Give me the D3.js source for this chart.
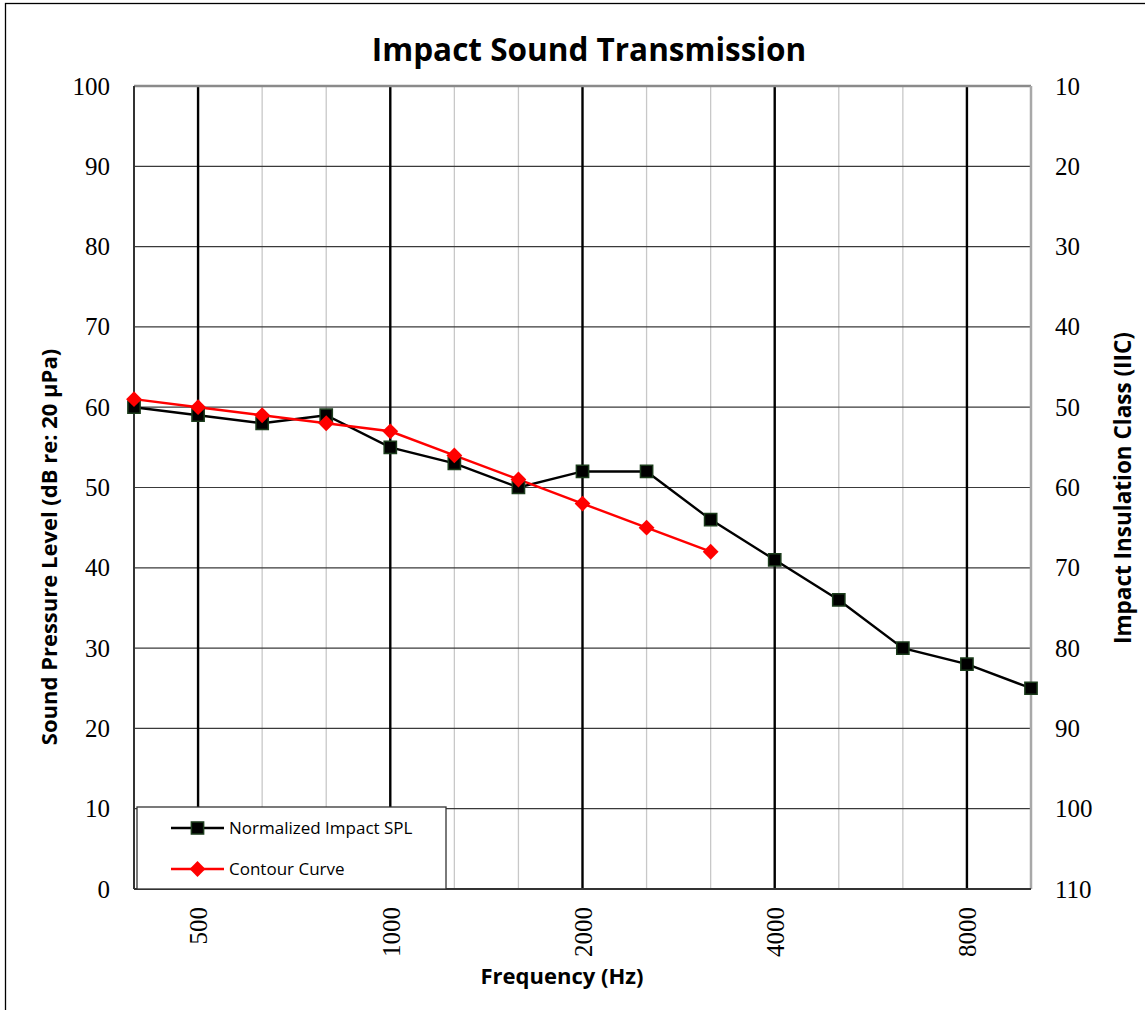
<!DOCTYPE html>
<html>
<head>
<meta charset="utf-8">
<script src="https://cdn.jsdelivr.net/npm/d3@7"></script>
<style>
  body { margin: 0; background: #fff; }
  svg text { fill: #000; }
</style>
</head>
<body>
<svg id="chart" width="1145" height="1010"></svg>
<script>
// third-octave bands and values
const freqs = [400, 500, 630, 800, 1000, 1250, 1600, 2000, 2500, 3150, 4000, 5000, 6300, 8000, 10000];
const splValues = [60, 59, 58, 59, 55, 53, 50, 52, 52, 46, 41, 36, 30, 28, 25];
const contourFreqs = [400, 500, 630, 800, 1000, 1250, 1600, 2000, 2500, 3150];
const contourValues = [61, 60, 59, 58, 57, 54, 51, 48, 45, 42];
const octaveTicks = [500, 1000, 2000, 4000, 8000];
const leftTicks = [0, 10, 20, 30, 40, 50, 60, 70, 80, 90, 100];
const rightTicks = [10, 20, 30, 40, 50, 60, 70, 80, 90, 100, 110];

const svg = d3.select('#chart');
const pLeft = 134, pRight = 1031, pTop = 86, pBottom = 889;

// bands are evenly spaced on the axis
const x = d3.scalePoint().domain(freqs).range([pLeft, pRight]);
const y = d3.scaleLinear().domain([0, 100]).range([pBottom, pTop]);
const yRight = d3.scaleLinear().domain([110, 10]).range([pBottom, pTop]);

// outer frame
svg.append('rect').attr('x', 5.5).attr('y', 3.5).attr('width', 1150).attr('height', 1020)
  .attr('fill', 'none').attr('stroke', '#000').attr('stroke-width', 1.3);

// title
svg.append('text').attr('x', 589).attr('y', 61).attr('text-anchor', 'middle')
  .style('font-family', 'Open Sans').style('font-weight', 'bold').style('font-size', '31.5px')
  .text('Impact Sound Transmission');

// minor vertical grid (every band)
svg.append('g').selectAll('line')
  .data(freqs.filter(f => !octaveTicks.includes(f) && f !== 400 && f !== 10000))
  .enter().append('line')
  .attr('x1', d => x(d)).attr('x2', d => x(d)).attr('y1', pTop).attr('y2', pBottom)
  .attr('stroke', '#c8c8c8').attr('stroke-width', 1.3);

// horizontal grid
svg.append('g').selectAll('line')
  .data(leftTicks.slice(1, -1))
  .enter().append('line')
  .attr('x1', pLeft).attr('x2', pRight).attr('y1', d => y(d)).attr('y2', d => y(d))
  .attr('stroke', '#3a3a3a').attr('stroke-width', 1.2);

// octave lines
svg.append('g').selectAll('line')
  .data(octaveTicks)
  .enter().append('line')
  .attr('x1', d => x(d)).attr('x2', d => x(d)).attr('y1', pTop).attr('y2', pBottom)
  .attr('stroke', '#000').attr('stroke-width', 2.4);

// plot border
svg.append('line').attr('x1', pLeft).attr('x2', pRight).attr('y1', pTop).attr('y2', pTop)
  .attr('stroke', '#8a8a8a').attr('stroke-width', 2.5);
svg.append('line').attr('x1', pRight).attr('x2', pRight).attr('y1', pTop).attr('y2', pBottom)
  .attr('stroke', '#a8a8a8').attr('stroke-width', 2.5);
svg.append('line').attr('x1', pLeft).attr('x2', pLeft).attr('y1', pTop).attr('y2', pBottom)
  .attr('stroke', '#333').attr('stroke-width', 2);
svg.append('line').attr('x1', pLeft).attr('x2', pRight).attr('y1', pBottom).attr('y2', pBottom)
  .attr('stroke', '#333').attr('stroke-width', 2);

// axes labels (ticks)
const serif = 'Liberation Serif, Times New Roman, serif';
const yAxisL = d3.axisLeft(y).tickValues(leftTicks).tickSize(0).tickPadding(24);
svg.append('g').attr('transform', `translate(${pLeft},0)`).call(yAxisL)
  .call(g => g.select('.domain').remove())
  .selectAll('text').style('font-family', serif).style('font-size', '25px').attr('fill', '#000');

const yAxisR = d3.axisRight(yRight).tickValues(rightTicks).tickSize(0).tickPadding(24);
svg.append('g').attr('transform', `translate(${pRight},0)`).call(yAxisR)
  .call(g => g.select('.domain').remove())
  .selectAll('text').style('font-family', serif).style('font-size', '25px').attr('fill', '#000');

const xAxis = d3.axisBottom(x).tickValues(octaveTicks).tickFormat(d3.format('d')).tickSize(0);
svg.append('g').attr('transform', `translate(0,${pBottom})`).call(xAxis)
  .call(g => g.select('.domain').remove())
  .selectAll('text')
  .style('font-family', serif).style('font-size', '25px').attr('fill', '#000')
  .attr('transform', 'rotate(-90)')
  .attr('x', -18).attr('y', 0).attr('dy', '0.35em')
  .attr('text-anchor', 'end');

// axis titles
const sans = 'Open Sans, sans-serif';
svg.append('text').attr('x', 562).attr('y', 984).attr('text-anchor', 'middle')
  .style('font-family', sans).style('font-weight', 'bold').style('font-size', '22px')
  .text('Frequency (Hz)');
svg.append('text').attr('transform', 'translate(57,547) rotate(-90)').attr('text-anchor', 'middle')
  .style('font-family', sans).style('font-weight', 'bold').style('font-size', '22px')
  .text('Sound Pressure Level (dB re: 20 µPa)');
svg.append('text').attr('transform', 'translate(1131,488) rotate(-90)').attr('text-anchor', 'middle')
  .style('font-family', sans).style('font-weight', 'bold').style('font-size', '22.5px')
  .text('Impact Insulation Class (IIC)');

// series
const line = d3.line().x(d => x(d[0])).y(d => y(d[1]));
const splData = freqs.map((f, i) => [f, splValues[i]]);
const contourData = contourFreqs.map((f, i) => [f, contourValues[i]]);

svg.append('path').datum(splData).attr('d', line)
  .attr('fill', 'none').attr('stroke', '#000').attr('stroke-width', 2.4);
svg.append('path').datum(contourData).attr('d', line)
  .attr('fill', 'none').attr('stroke', '#ff0000').attr('stroke-width', 2.4);

const square = d3.symbol().type(d3.symbolSquare).size(150);
const diamond = d3.symbol().type(d3.symbolSquare).size(125); // rotated 45deg below

svg.append('g').selectAll('path').data(splData).enter().append('path')
  .attr('d', square).attr('transform', d => `translate(${x(d[0])},${y(d[1])})`)
  .attr('fill', '#000').attr('stroke', '#1c3d1c').attr('stroke-width', 1.5);
svg.append('g').selectAll('path').data(contourData).enter().append('path')
  .attr('d', diamond).attr('transform', d => `translate(${x(d[0])},${y(d[1])}) rotate(45)`)
  .attr('fill', '#ff0000');

// legend
const lg = svg.append('g');
lg.append('rect').attr('x', 137).attr('y', 807).attr('width', 309).attr('height', 82)
  .attr('fill', '#fff').attr('stroke', '#333').attr('stroke-width', 1.3);
const legendItems = [
  { name: 'Normalized Impact SPL', color: '#000', sym: square, fill: '#000', stroke: '#1c3d1c', rot: 0 },
  { name: 'Contour Curve', color: '#ff0000', sym: diamond, fill: '#ff0000', stroke: 'none', rot: 45 }
];
legendItems.forEach((it, i) => {
  const ly = 828 + i * 41;
  lg.append('line').attr('x1', 171).attr('x2', 224).attr('y1', ly).attr('y2', ly)
    .attr('stroke', it.color).attr('stroke-width', 2.4);
  lg.append('path').attr('d', it.sym).attr('transform', `translate(197.5,${ly}) rotate(${it.rot})`)
    .attr('fill', it.fill).attr('stroke', it.stroke).attr('stroke-width', 1.5);
  lg.append('text').attr('x', 229).attr('y', ly).attr('dy', '0.35em')
    .style('font-family', sans).style('font-size', '17px').text(it.name);
});
</script>
</body>
</html>
